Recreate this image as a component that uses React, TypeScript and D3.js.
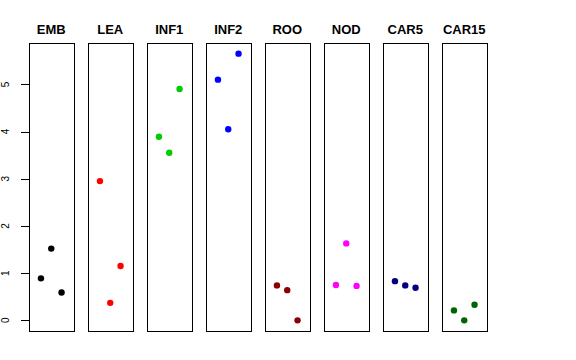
import React from "react";
import * as d3 from "d3";

const categories = ["EMB", "LEA", "INF1", "INF2", "ROO", "NOD", "CAR5", "CAR15"];
const colors = ["#000000", "#FF0000", "#00CD00", "#0000FF", "#8B0000", "#FF00FF", "#000080", "#006400"];
const rep1 = [0.89, 2.95, 3.89, 5.1, 0.74, 0.75, 0.83, 0.21];
const rep2 = [1.52, 0.37, 3.55, 4.05, 0.64, 1.63, 0.74, 0.0];
const rep3 = [0.59, 1.15, 4.9, 5.65, 0.0, 0.73, 0.69, 0.33];
const yTicks = [0, 1, 2, 3, 4, 5];

const W = 576;
const H = 360;
const top = 43;
const bottom = 331;
const firstLeft = 29;
const step = 59;
const panelW = 44.5;

export default function App() {
  const all = [...rep1, ...rep2, ...rep3];
  const mn = d3.min(all) as number;
  const mx = d3.max(all) as number;
  const pad = (mx - mn) * 0.04;
  const y = d3.scaleLinear().domain([mn - pad, mx + pad]).range([bottom, top]);
  const panel = d3
    .scaleLinear()
    .domain([0, 1])
    .range([firstLeft, firstLeft + step]);

  return (
    <svg
      width={W}
      height={H}
      style={{ position: "absolute", left: 0, top: 0, background: "#fff" }}
      fontFamily="'Liberation Sans', Arial, sans-serif"
    >
      <rect x={0} y={0} width={W} height={H} fill="#fff" />
      {/* y axis */}
      <line x1={29.5} x2={29.5} y1={y(0)} y2={y(5)} stroke="#000" />
      {yTicks.map((t) => (
        <g key={t}>
          <line x1={21} x2={29.5} y1={Math.round(y(t)) + 0.5} y2={Math.round(y(t)) + 0.5} stroke="#000" />
          <text
            transform={`translate(8.5,${y(t)}) rotate(-90)`}
            textAnchor="middle"
            fontSize={10}
            fill="#000"
          >
            {t}
          </text>
        </g>
      ))}
      {categories.map((c, i) => {
        const left = panel(i);
        const x = d3.scaleLinear().domain([-0.16, 4.16]).range([left, left + panelW]);
        const vals = [rep1[i], rep2[i], rep3[i]];
        return (
          <g key={c}>
            <text
              x={left + panelW / 2}
              y={34}
              textAnchor="middle"
              fontWeight="bold"
              fontSize={13}
              fill="#000"
            >
              {c}
            </text>
            <rect
              x={Math.round(left) + 0.5}
              y={top + 0.5}
              width={Math.round(panelW)}
              height={bottom - top}
              fill="none"
              stroke="#000"
              strokeWidth={1}
            />
            {vals.map((v, j) => (
              <circle key={j} cx={x(j + 1)} cy={y(v)} r={3.2} fill={colors[i]} />
            ))}
          </g>
        );
      })}
    </svg>
  );
}
